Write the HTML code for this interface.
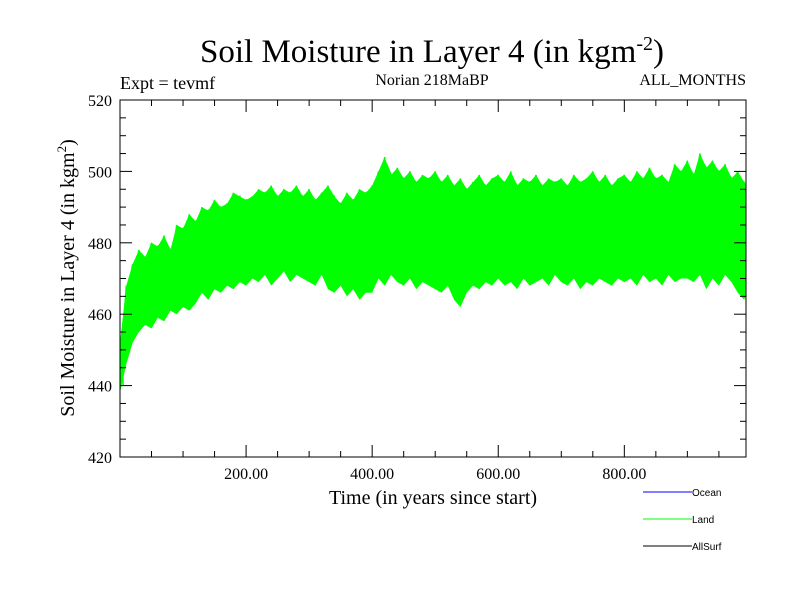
<!DOCTYPE html>
<html><head><meta charset="utf-8"><style>
body{margin:0;background:#fff}
svg{display:block;font-family:"Liberation Serif",serif}
</style></head><body>
<svg id="c" width="800" height="600">
<text x="432" y="62" font-size="33" text-anchor="middle">Soil Moisture in Layer 4 (in kgm<tspan dy="-12" font-size="20">-2</tspan><tspan dy="12">)</tspan></text>
<text x="120" y="89" font-size="18">Expt = tevmf</text>
<text x="432" y="85" font-size="16" text-anchor="middle">Norian 218MaBP</text>
<text x="746" y="85" font-size="16" text-anchor="end">ALL_MONTHS</text>
<text transform="translate(74,278) rotate(-90)" font-size="20" text-anchor="middle">Soil Moisture in Layer 4 (in kgm<tspan dy="-8" font-size="13">2</tspan><tspan dy="8">)</tspan></text>
<text x="433" y="504" font-size="20" text-anchor="middle">Time (in years since start)</text>
<g id="plot"></g>
<g font-family="Liberation Sans,sans-serif" font-size="10">
<line x1="643" y1="492" x2="692" y2="492" stroke="#0000ff"/>
<text x="692" y="496">Ocean</text>
<line x1="643" y1="519" x2="692" y2="519" stroke="#00ff00"/>
<text x="692" y="523">Land</text>
<line x1="643" y1="546" x2="692" y2="546" stroke="#000"/>
<text x="692" y="550">AllSurf</text>
</g>
</svg>
<script>
const yTicks=[420,440,460,480,500,520];
const xTicks=[200,400,600,800];
const years=[];for(let i=0;i<=100;i++)years.push(i*10);
const upper=[452,468,474,478,476,480,479,482,478,485,
484,488,486,490,489,492,490,491,494,493,
492,493,495,494,496,493,495,494,496,493,
495,492,494,496,493,491,494,492,495,494,
496,500,504,499,501,498,500,497,499,498,
500,497,499,496,498,495,497,499,496,498,
499,497,500,496,498,497,499,496,498,497,
498,496,499,497,498,500,497,499,496,498,
499,497,500,498,501,498,499,497,502,500,
503,499,505,501,503,500,502,498,500,497,495];
const lower=[438,446,452,455,457,456,459,458,461,460,
462,461,463,466,464,467,466,468,467,469,
468,470,469,471,468,470,472,469,471,470,
469,468,471,467,466,468,465,467,464,466,
466,470,468,471,469,468,470,467,469,468,
467,466,468,464,462,466,468,467,469,468,
470,468,469,467,470,468,469,470,468,471,
469,468,470,467,469,468,470,469,468,470,
469,470,468,471,469,470,468,471,469,470,
470,469,471,467,470,468,471,469,466,464,468];
const L=120,R=746,T=100,B=457,X0=0,X1=993,Y0=420,Y1=520;
const sx=v=>L+(v-X0)/(X1-X0)*(R-L), sy=v=>B-(v-Y0)/(Y1-Y0)*(B-T);
const NS="http://www.w3.org/2000/svg",g=document.getElementById('plot');
function mk(t,a){const e=document.createElementNS(NS,t);for(const k in a)e.setAttribute(k,a[k]);g.appendChild(e);return e;}
const defs=mk('clipPath',{id:'clp'});const cr=document.createElementNS(NS,'rect');
cr.setAttribute('x',L);cr.setAttribute('y',T);cr.setAttribute('width',R-L);cr.setAttribute('height',B-T);defs.appendChild(cr);
let pts=[];
for(let i=0;i<years.length;i++)pts.push(sx(years[i])+','+sy(upper[i]));
for(let i=years.length-1;i>=0;i--)pts.push(sx(years[i])+','+sy(lower[i]));
const band=mk('polygon',{points:pts.join(' '),fill:'#00ff00','clip-path':'url(#clp)'});


let z=[];
for(let i=0;i<years.length-1;i++){
 z.push(sx(years[i])+','+sy(upper[i]));
 z.push(sx(years[i]+5)+','+sy(lower[i]+ (upper[i]-lower[i])*0.15));
 z.push(sx(years[i]+3)+','+sy(upper[i]-2));
}
const zz=mk('polyline',{points:z.join(' '),fill:'none',stroke:'#00ff00','stroke-width':1.5,'clip-path':'url(#clp)'});


const fr=mk('rect',{x:L,y:T,width:R-L,height:B-T,fill:'none',stroke:'#000','stroke-width':1});


for(let v=Y0;v<=Y1;v+=5){const y=sy(v),len=(v%20===0)?12:6;
 mk('line',{x1:L,y1:y,x2:L+len,y2:y,stroke:'#000'});mk('line',{x1:R,y1:y,x2:R-len,y2:y,stroke:'#000'});}
for(let v=50;v<X1;v+=50){const x=sx(v),len=(v%200===0)?12:6;
 mk('line',{x1:x,y1:B,x2:x,y2:B-len,stroke:'#000'});mk('line',{x1:x,y1:T,x2:x,y2:T+len,stroke:'#000'});}
yTicks.forEach(v=>{const t=mk('text',{x:L-8,y:sy(v)+6,'font-size':16,'text-anchor':'end'});t.textContent=v;
 
 });
xTicks.forEach(v=>{const t=mk('text',{x:sx(v),y:B+22,'font-size':16,'text-anchor':'middle'});t.textContent=v.toFixed(2);
 
 });
</script>
</body></html>
